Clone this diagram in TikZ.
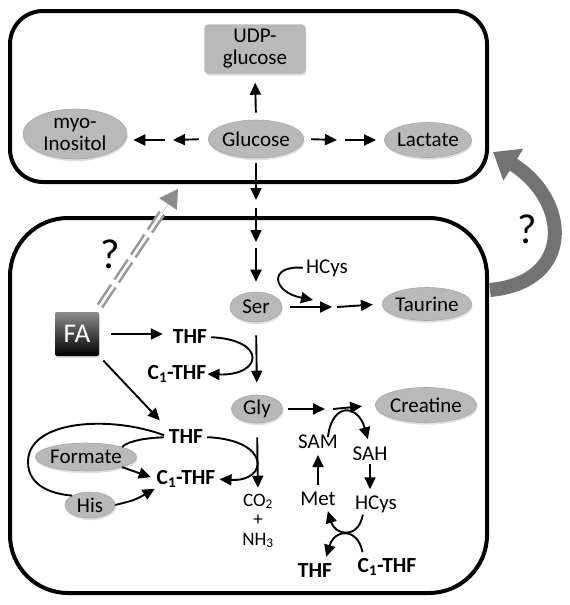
\documentclass[tikz,border=0pt]{standalone}
\usepackage{fontspec}
\setmainfont{Carlito}
\usetikzlibrary{arrows.meta,shapes.geometric,shadows,calc}
\begin{document}
\begin{tikzpicture}[x=1pt,y=-1pt,
  every node/.style={font=\fontsize{21}{22}\selectfont, inner sep=0pt},
  shade/.style={drop shadow={shadow xshift=0.8pt, shadow yshift=-2.2pt, opacity=0.25}},
  ell/.style={ellipse, fill=gray!55, draw=gray!70, line width=0.6pt, shade},
  bl/.style={font=\fontsize{21.5}{22}\selectfont\bfseries},
  qm/.style={font=\fontsize{42}{42}\selectfont},
  arr/.style={line width=1.9pt, -{Triangle[length=12pt,width=11pt]}},
  ln/.style={line width=1.9pt},
  cell/.style={line width=4pt},
  fabox/.style={rectangle, rounded corners=2pt, top color=black!45, bottom color=black, draw=none,
    text=white, font=\fontsize{27}{27}\selectfont, minimum width=44pt, minimum height=44pt, shade},
  udpbox/.style={rectangle, rounded corners=4pt, fill=gray!55, draw=gray!60, line width=0.4pt,
    minimum width=101pt, minimum height=49pt, align=center, shade},
  garr/.style={draw=black!40, line width=2.6pt, double=white, double distance=2.6pt, dash pattern=on 24pt off 6pt}
]
\useasboundingbox (0,0) rectangle (570,605);

% compartments
\draw[cell, rounded corners=33pt] (10,11) rectangle (487,182);
\draw[cell, rounded corners=58pt] (10,218) rectangle (487,593);

% top nodes
\node[udpbox] (udp) at (255,49) {UDP-\\glucose};
\node[ell, minimum width=88pt, minimum height=38pt] (glc) at (256,139) {Glucose};
\node[ell, minimum width=104pt, minimum height=50pt, align=center] (myo) at (75,134) {myo-\\Inositol};
\node[ell, minimum width=87pt, minimum height=35pt] (lac) at (428,140) {Lactate};

% bottom nodes
\node[ell, minimum width=52pt, minimum height=30pt] (ser) at (256,307) {Ser};
\node[ell, minimum width=87pt, minimum height=33pt] (tau) at (427,304) {Taurine};
\node[ell, minimum width=51pt, minimum height=28pt] (gly) at (257,409) {Gly};
\node[ell, minimum width=87pt, minimum height=35pt] (cre) at (426,405) {Creatine};
\node[ell, minimum width=88pt, minimum height=28pt] (form) at (86,457) {Formate};
\node[ell, minimum width=50pt, minimum height=26pt] (his) at (90,505) {His};
\node[fabox] (fa) at (77,334) {FA};

\node (hcysA) at (327,268) {HCys};
\node[bl] (thfA) at (190,337) {THF};
\node[bl] (c1A) at (177,374) {C\textsubscript{1}-THF};
\node[bl] (thfB) at (186,437) {THF};
\node[bl] (c1B) at (186,479) {C\textsubscript{1}-THF};
\node[align=center, font=\fontsize{19}{19.5}\selectfont] (co2) at (258,521) {CO\textsubscript{2}\\+\\NH\textsubscript{3}};
\node (sam) at (318,442) {SAM};
\node (sah) at (370,454) {SAH};
\node (met) at (318,499) {Met};
\node (hcysB) at (376,504) {HCys};
\node[bl] (thfC) at (315,571) {THF};
\node[bl] (c1C) at (387,567) {C\textsubscript{1}-THF};

\node[qm] (q1) at (110,254) {?};
\node[qm] (q2) at (527,229) {?};

% top arrows
\draw[arr, shorten <=7pt, shorten >=9pt] (glc.north) -- (udp.south);
\coordinate (ml1) at (173,140);
\coordinate (ml2) at (165,140);
\draw[arr, shorten <=9pt] (glc.west) -- (ml1);
\draw[arr, shorten >=6pt] (ml2) -- (myo.east |- ml2);
\coordinate (mr1) at (337,140);
\coordinate (mr2) at (345,140);
\draw[arr, shorten <=7pt] (glc.east) -- (mr1);
\draw[arr, shorten >=8pt] (mr2) -- (lac.west);

% glucose down to serine
\coordinate (d1) at (256,200);
\coordinate (d2) at (256,208);
\coordinate (d3) at (256,242);
\coordinate (d4) at (256,248);
\draw[arr, shorten <=5pt] (glc.south) -- (d1);
\draw[arr] (d2) -- (d3);
\draw[arr, shorten >=10pt] (d4) -- (ser.north);

% serine to taurine
\coordinate (sr1) at (332,307);
\coordinate (sr2) at (337,307);
\coordinate (sr3) at (313,300);
\draw[arr, shorten <=8pt] (ser.east) -- (sr1);
\draw[arr, shorten >=9pt] (sr2) -- (tau.west);
\draw[arr, shorten <=3pt] (hcysA.west) .. controls (268,265) and (272,292) .. (sr3);

% serine to glycine
\draw[arr, shorten <=13pt, shorten >=12pt] (ser.south) -- (gly.north);

% FA
\draw[arr, shorten <=12pt, shorten >=10pt] (fa.east) -- (thfA.west |- fa.east);
\draw[arr, shorten >=1pt, shorten <=4pt] (thfA.east) .. controls (268,340) and (262,376) .. (c1A.east);
\draw[arr, shorten <=6pt, shorten >=13pt] (fa.south east) -- (thfB.north west);

% folate cycle lower left
\coordinate (lp) at (28,462);
\draw[ln, shorten <=5pt] (thfB.west) .. controls (110,415) and (28,420) .. (lp)
  .. controls (28,486) and (52,494) .. (his.north west);
\draw[ln, shorten <=5pt] (thfB.west) .. controls (148,438) and (130,440) .. (form.north east);
\draw[arr, shorten >=6pt] (form.south east) .. controls (130,470) .. (c1B.west);
\draw[arr, shorten >=2pt] (his.east) .. controls (135,500) .. (c1B.south west);
\draw[arr, shorten <=4pt, shorten >=4pt] (thfB.east) .. controls (272,440) and (268,482) .. (c1B.east);
\draw[arr, shorten <=14pt, shorten >=6pt] (gly.south) -- (co2.north);

% glycine to creatine, methionine cycle
\coordinate (ga1) at (325,409);
\coordinate (ga2) at (333,409);
\draw[arr, shorten <=5pt] (gly.east) -- (ga1);
\draw[arr, shorten >=13pt] (ga2) -- (cre.west);
\draw[arr, shorten >=8pt] ($(sam.north)+(10,2)$) .. controls (332,402) and (358,404) .. (sah.north);
\draw[arr, shorten <=7pt, shorten >=6pt] (met.north) -- (met.north |- sam.south);
\draw[arr, shorten <=3pt, shorten >=6pt] (sah.south) -- (sah.south |- hcysB.north);
\draw[arr] ($(hcysB.south west)+(8,2)$) .. controls (358,540) and (335,535) .. ($(met.south east)+(-8,5)$);
\draw[arr] ($(c1C.north west)+(5,-6)$) .. controls (358,528) and (335,528) .. ($(thfC.north east)+(-6,-7)$);

% grey uncertain transfers
\coordinate (qa1) at (100,306);
\coordinate (qa2) at (162,213);
\coordinate (qa3) at (178,189);
\draw[garr] (qa1) -- (qa2);
\draw[draw=black!45, fill=black!45, line width=0.1pt, -{Triangle[length=18pt,width=21pt]}] (qa2) -- (qa3);

\coordinate (ga) at (490,290);
\coordinate (gb) at (493,152);
\draw[draw=black!55, line width=14pt, -{Triangle[length=24pt,width=36pt]}]
  (ga) .. controls (575,282) and (570,200) .. (gb);
\end{tikzpicture}
\end{document}
